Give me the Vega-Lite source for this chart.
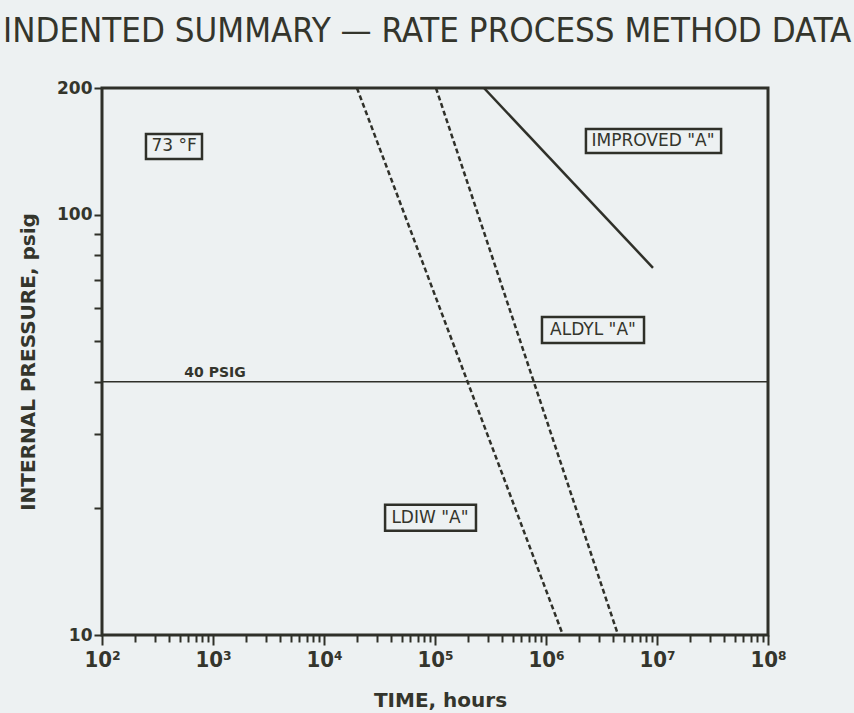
{
  "$schema": "https://vega.github.io/schema/vega-lite/v6.json",
  "autosize": {"type": "none"},
  "padding": {"left": 102, "top": 88, "right": 86, "bottom": 78},
  "width": 666,
  "height": 547,
  "background": "#edf1f2",
  "title": {
    "text": "INDENTED SUMMARY — RATE PROCESS METHOD DATA",
    "anchor": "start",
    "frame": "group",
    "offset": 29,
    "dx": -99,
    "font": "DejaVu Sans Condensed, sans-serif",
    "fontSize": 34.6,
    "fontWeight": "normal",
    "color": "#34352c"
  },
  "config": {
    "view": {"stroke": "#2f3029", "strokeWidth": 3, "fill": "#edf1f2"},
    "axis": {"grid": false, "domain": false}
  },
  "datasets": {
    "dashed": [
      {"series": "LDIW", "time": 19800, "pressure": 200},
      {"series": "LDIW", "time": 1420000, "pressure": 10},
      {"series": "ALDYL", "time": 102000, "pressure": 200},
      {"series": "ALDYL", "time": 4460000, "pressure": 10}
    ],
    "solid": [
      {"series": "IMPROVED", "time": 276000, "pressure": 200},
      {"series": "IMPROVED", "time": 9200000, "pressure": 74.7}
    ],
    "boxes": [
      {"label": "73 °F", "tx": 445.6, "ty": 145.2, "x1": 249, "x2": 796, "y1": 135.6, "y2": 155.5},
      {"label": "IMPROVED \"A\"", "tx": 9200000, "ty": 149.6, "x1": 2290000, "x2": 37800000, "y1": 140.1, "y2": 159.8},
      {"label": "ALDYL \"A\"", "tx": 2650000, "ty": 53.2, "x1": 920000, "x2": 7640000, "y1": 49.5, "y2": 57.1},
      {"label": "LDIW \"A\"", "tx": 90000, "ty": 19.0, "x1": 35500, "x2": 234000, "y1": 17.7, "y2": 20.4}
    ],
    "psig": [
      {"label": "40 PSIG", "time": 1042, "pressure": 41.1}
    ]
  },
  "layer": [
    {
      "data": {"name": "dashed"},
      "mark": {"type": "line", "strokeDash": [5, 3], "strokeWidth": 2.5, "color": "#2f3029", "clip": true},
      "encoding": {
        "x": {
          "field": "time", "type": "quantitative",
          "scale": {"type": "log", "domain": [100, 100000000], "nice": false},
          "axis": {
            "orient": "bottom",
            "title": "TIME, hours",
            "titleFont": "DejaVu Sans",
            "titleFontWeight": "bold",
            "titleFontSize": 20,
            "titleColor": "#34352c",
            "titleBaseline": "alphabetic",
            "titleY": 71,
            "titleX": 338,
            "values": [100,200,300,400,500,600,700,800,900,1000,2000,3000,4000,5000,6000,7000,8000,9000,10000,20000,30000,40000,50000,60000,70000,80000,90000,100000,200000,300000,400000,500000,600000,700000,800000,900000,1000000,2000000,3000000,4000000,5000000,6000000,7000000,8000000,9000000,10000000,20000000,30000000,40000000,50000000,60000000,70000000,80000000,90000000,100000000],
            "labelExpr": "abs(log(datum.value)/LN10 - round(log(datum.value)/LN10)) < 0.000001 ? '10' + ['⁰','¹','²','³','⁴','⁵','⁶','⁷','⁸','⁹'][round(log(datum.value)/LN10)] : ''",
            "labelFont": "DejaVu Sans Condensed",
            "labelFontWeight": "bold",
            "labelFontSize": 22,
            "labelColor": "#34352c",
            "labelPadding": 4,
            "labelFlush": false,
            "labelOverlap": false,
            "tickColor": "#2f3029",
            "tickWidth": 2,
            "tickSize": {"condition": {"test": "abs(log(datum.value)/LN10 - round(log(datum.value)/LN10)) < 0.000001", "value": 10}, "value": 7}
          }
        },
        "y": {
          "field": "pressure", "type": "quantitative",
          "scale": {"type": "log", "domain": [10, 200], "nice": false},
          "axis": {
            "title": "INTERNAL PRESSURE, psig",
            "titleFont": "DejaVu Sans",
            "titleFontWeight": "bold",
            "titleFontSize": 20,
            "titleColor": "#34352c",
            "titleX": -74,
            "titleBaseline": "middle",
            "values": [10,20,30,40,50,60,70,80,90,100,200],
            "labelExpr": "datum.value == 10 || datum.value == 100 || datum.value == 200 ? datum.label : ''",
            "labelFont": "DejaVu Sans",
            "labelFontWeight": "bold",
            "labelFontSize": 17,
            "labelColor": "#34352c",
            "labelPadding": 2,
            "labelFlush": false,
            "labelOverlap": false,
            "tickColor": "#2f3029",
            "tickWidth": 2,
            "tickSize": 8
          }
        },
        "detail": {"field": "series"}
      }
    },
    {
      "data": {"name": "solid"},
      "mark": {"type": "line", "strokeWidth": 2.5, "color": "#2f3029", "clip": true},
      "encoding": {
        "x": {"field": "time", "type": "quantitative"},
        "y": {"field": "pressure", "type": "quantitative"}
      }
    },
    {
      "data": {"values": [{"pressure": 40}]},
      "mark": {"type": "rule", "strokeWidth": 1.5, "color": "#2f3029"},
      "encoding": {
        "y": {"field": "pressure", "type": "quantitative"}
      }
    },
    {
      "data": {"name": "psig"},
      "mark": {"type": "text", "font": "DejaVu Sans", "fontWeight": "bold", "fontSize": 14, "baseline": "alphabetic", "align": "center", "color": "#34352c"},
      "encoding": {
        "x": {"field": "time", "type": "quantitative"},
        "y": {"field": "pressure", "type": "quantitative"},
        "text": {"field": "label"}
      }
    },
    {
      "data": {"name": "boxes"},
      "mark": {"type": "rect", "fill": "#edf1f2", "stroke": "#2f3029", "strokeWidth": 2.5},
      "encoding": {
        "x": {"field": "x1", "type": "quantitative"},
        "x2": {"field": "x2"},
        "y": {"field": "y1", "type": "quantitative"},
        "y2": {"field": "y2"}
      }
    },
    {
      "data": {"name": "boxes"},
      "mark": {"type": "text", "font": "DejaVu Sans", "fontSize": 17, "baseline": "middle", "align": "center", "color": "#34352c"},
      "encoding": {
        "x": {"field": "tx", "type": "quantitative"},
        "y": {"field": "ty", "type": "quantitative"},
        "text": {"field": "label"}
      }
    }
  ]
}
